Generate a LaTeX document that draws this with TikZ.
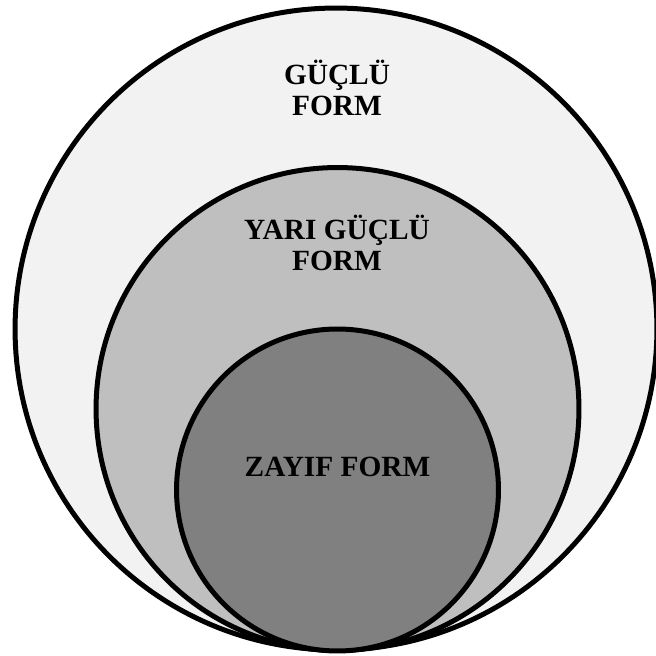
\documentclass[tikz,border=0pt]{standalone}
\usepackage{fontspec}
\setmainfont{Liberation Serif}
\usepackage{tikz}
\usepackage{xcolor}

\definecolor{formlight}{gray}{0.95}
\definecolor{formmid}{gray}{0.75}
\definecolor{formdark}{gray}{0.50}

\tikzset{
  formring/.style={circle,draw=black,line width=0.1cm,inner sep=0pt},
  formlabel/.style={font=\fontsize{16.7}{18}\selectfont\bfseries,align=center}
}

\begin{document}
\begin{tikzpicture}[x=0.02cm,y=0.02cm]
        \useasboundingbox (0,0) rectangle (656,656);
        \clip (0,0) rectangle (656,656);
        \fill[white] (0,0) rectangle (656,656);
        % three nested forms, touching at the bottom
        \node[formring,fill=formlight,minimum size=12.84cm] (strong) at (336,327) {};
        \node[formring,fill=formmid,minimum size=9.66cm] (semi) at (337.5,247) {};
        \node[formring,fill=formdark,minimum size=6.44cm] (weak) at (337.5,166) {};
        \node[formlabel] (stronglabel) at (337,568) {GÜÇLÜ\\FORM};
        \node[formlabel] (semilabel) at (337,413) {YARI GÜÇLÜ\\FORM};
        \node[formlabel] (weaklabel) at (337.5,189) {ZAYIF FORM};
      \end{tikzpicture}
\end{document}
